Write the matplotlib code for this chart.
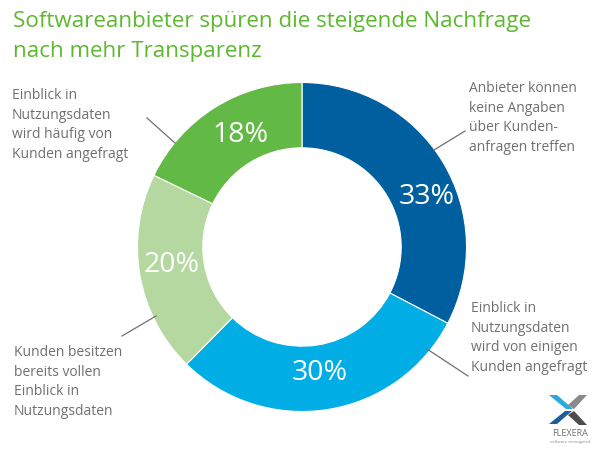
import matplotlib
matplotlib.use('Agg')
import matplotlib.pyplot as plt

# shares in clockwise order, starting at 12 o'clock
values = [33, 30, 20, 18]
pct_labels = ['33%', '30%', '20%', '18%']
colors = ['#00609f', '#00aee6', '#b5d8a0', '#62b946']

title_lines = ['Softwareanbieter spüren die steigende Nachfrage', 'nach mehr Transparenz']
notes = ['Anbieter können\nkeine Angaben\nüber Kunden-\nanfragen treffen',
         'Einblick in\nNutzungsdaten\nwird von einigen\nKunden angefragt',
         'Kunden besitzen\nbereits vollen\nEinblick in\nNutzungsdaten',
         'Einblick in\nNutzungsdaten\nwird häufig von\nKunden angefragt']

plt.rcParams['font.family'] = ['Open Sans', 'DejaVu Sans']

fig = plt.figure(figsize=(6, 4.5), dpi=100)

# donut spans about x 137-467, y 82-412
ax = fig.add_axes([137 / 600, 1 - 412 / 450, 330 / 600, 330 / 450])
ax.pie(values, colors=colors, startangle=90, counterclock=False, radius=1,
       wedgeprops=dict(width=0.397, edgecolor='white', linewidth=0.8))
ax.set_xlim(-1.003, 1.003)
ax.set_ylim(-1.003, 1.003)
ax.set_aspect('equal')

# pixel-sized canvas for text and leader lines, on top of the donut
bg = fig.add_axes([0, 0, 1, 1])
bg.set_xlim(0, 600)
bg.set_ylim(450, 0)
bg.axis('off')
bg.set_zorder(2)

pct_pos = [(427, 197), (320, 373), (171.5, 265), (240, 135)]
for (x, y), txt in zip(pct_pos, pct_labels):
    bg.text(x, y, txt, color='white', fontsize=20.5, ha='center', va='center')

bg.text(13, 21, title_lines[0], color='#5cb82e', fontsize=16.1, ha='left', va='center')
bg.text(13, 52, title_lines[1], color='#5cb82e', fontsize=16.1, ha='left', va='center')

note_pos = [(469, 118), (471, 338), (14, 382), (12, 125)]
for (x, y), txt in zip(note_pos, notes):
    bg.text(x, y, txt, color='#707070', fontsize=10, ha='left', va='center', linespacing=1.42)

leaders = [((434, 150), (465, 131)), ((427, 349), (468, 376)),
           ((122, 336), (156, 316)), ((147, 118), (175, 143))]
for a, b in leaders:
    bg.plot([a[0], b[0]], [a[1], b[1]], color='#707070', lw=0.9)

# logo
bg.fill([549, 557, 573, 566], [395, 395, 409, 409], color='#29a9e0', lw=0)
bg.fill([549, 557, 572, 565], [424, 424, 411, 411], color='#1f5f99', lw=0)
bg.fill([587, 579, 568, 574], [395, 395, 405, 409], color='#8a8a8a', lw=0)
bg.fill([587, 579, 568, 574], [425, 425, 415, 411], color='#4d4d4d', lw=0)
bg.text(570, 433, 'FLEXERA', color='#6f6f6f', fontsize=6.5, ha='center', va='center')
bg.text(570, 442, 'software reimagined', color='#8a8a8a', fontsize=3, ha='center', va='center')

fig.savefig('out.png', dpi=100)
